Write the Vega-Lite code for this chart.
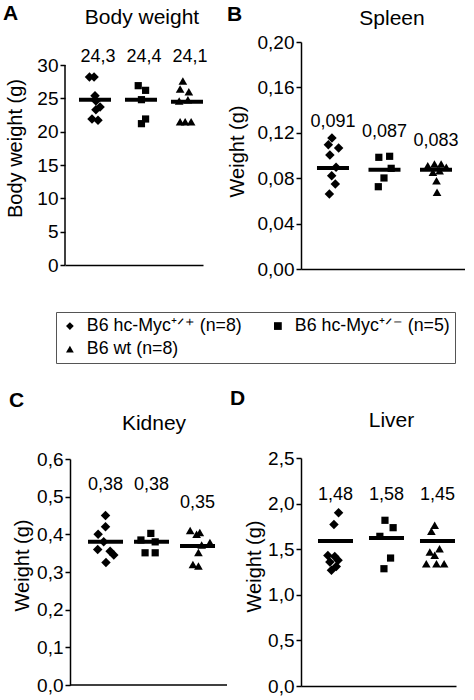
{
  "$schema": "https://vega.github.io/schema/vega-lite/v6.json",
  "padding": {"left": 3, "top": 3, "right": 0, "bottom": 0},
  "config": {
    "font": "Liberation Sans",
    "view": {"stroke": null},
    "axis": {"domainColor": "black", "domainWidth": 1.5, "tickColor": "black", "tickWidth": 1.5, "tickSize": 5, "labelFontSize": 19, "labelColor": "black", "labelPadding": 2, "labelOverlap": false, "titleFontSize": 20, "titleFontWeight": "normal", "titleColor": "black", "titleBaseline": "alphabetic", "grid": false},
    "title": {"color": "black"}
  },
  "datasets": {
    "pts": [
      {"p": "A", "g": "B6 hc-Myc⁺ᐟ⁺ (n=8)", "x": 0.88, "v": 28.2},
      {"p": "A", "g": "B6 hc-Myc⁺ᐟ⁺ (n=8)", "x": 0.98, "v": 28.2},
      {"p": "A", "g": "B6 hc-Myc⁺ᐟ⁺ (n=8)", "x": 1.0, "v": 25.4},
      {"p": "A", "g": "B6 hc-Myc⁺ᐟ⁺ (n=8)", "x": 1.02, "v": 24.6},
      {"p": "A", "g": "B6 hc-Myc⁺ᐟ⁺ (n=8)", "x": 1.11, "v": 23.7},
      {"p": "A", "g": "B6 hc-Myc⁺ᐟ⁺ (n=8)", "x": 1.02, "v": 23.3},
      {"p": "A", "g": "B6 hc-Myc⁺ᐟ⁺ (n=8)", "x": 0.935, "v": 21.9},
      {"p": "A", "g": "B6 hc-Myc⁺ᐟ⁺ (n=8)", "x": 1.065, "v": 21.7},
      {"p": "A", "g": "B6 hc-Myc⁺ᐟ⁻ (n=5)", "x": 1.94, "v": 26.9},
      {"p": "A", "g": "B6 hc-Myc⁺ᐟ⁻ (n=5)", "x": 2.10, "v": 26.2},
      {"p": "A", "g": "B6 hc-Myc⁺ᐟ⁻ (n=5)", "x": 2.01, "v": 24.8},
      {"p": "A", "g": "B6 hc-Myc⁺ᐟ⁻ (n=5)", "x": 2.10, "v": 21.9},
      {"p": "A", "g": "B6 hc-Myc⁺ᐟ⁻ (n=5)", "x": 2.01, "v": 21.2},
      {"p": "A", "g": "B6 wt (n=8)", "x": 2.91, "v": 27.6},
      {"p": "A", "g": "B6 wt (n=8)", "x": 2.85, "v": 26.4},
      {"p": "A", "g": "B6 wt (n=8)", "x": 3.04, "v": 26.0},
      {"p": "A", "g": "B6 wt (n=8)", "x": 2.83, "v": 24.6},
      {"p": "A", "g": "B6 wt (n=8)", "x": 3.02, "v": 24.8},
      {"p": "A", "g": "B6 wt (n=8)", "x": 2.85, "v": 21.5},
      {"p": "A", "g": "B6 wt (n=8)", "x": 2.96, "v": 21.5},
      {"p": "A", "g": "B6 wt (n=8)", "x": 3.09, "v": 21.5},
      {"p": "B", "g": "B6 hc-Myc⁺ᐟ⁺ (n=8)", "x": 0.98, "v": 0.1154},
      {"p": "B", "g": "B6 hc-Myc⁺ᐟ⁺ (n=8)", "x": 0.91, "v": 0.1095},
      {"p": "B", "g": "B6 hc-Myc⁺ᐟ⁺ (n=8)", "x": 1.11, "v": 0.1066},
      {"p": "B", "g": "B6 hc-Myc⁺ᐟ⁺ (n=8)", "x": 0.94, "v": 0.1004},
      {"p": "B", "g": "B6 hc-Myc⁺ᐟ⁺ (n=8)", "x": 1.06, "v": 0.0896},
      {"p": "B", "g": "B6 hc-Myc⁺ᐟ⁺ (n=8)", "x": 0.975, "v": 0.0822},
      {"p": "B", "g": "B6 hc-Myc⁺ᐟ⁺ (n=8)", "x": 1.045, "v": 0.0749},
      {"p": "B", "g": "B6 hc-Myc⁺ᐟ⁺ (n=8)", "x": 0.93, "v": 0.0661},
      {"p": "B", "g": "B6 hc-Myc⁺ᐟ⁻ (n=5)", "x": 1.89, "v": 0.0984},
      {"p": "B", "g": "B6 hc-Myc⁺ᐟ⁻ (n=5)", "x": 2.10, "v": 0.0993},
      {"p": "B", "g": "B6 hc-Myc⁺ᐟ⁻ (n=5)", "x": 2.13, "v": 0.0887},
      {"p": "B", "g": "B6 hc-Myc⁺ᐟ⁻ (n=5)", "x": 1.99, "v": 0.0802},
      {"p": "B", "g": "B6 hc-Myc⁺ᐟ⁻ (n=5)", "x": 1.88, "v": 0.0725},
      {"p": "B", "g": "B6 wt (n=8)", "x": 2.84, "v": 0.0910},
      {"p": "B", "g": "B6 wt (n=8)", "x": 2.97, "v": 0.0925},
      {"p": "B", "g": "B6 wt (n=8)", "x": 3.10, "v": 0.0925},
      {"p": "B", "g": "B6 wt (n=8)", "x": 3.20, "v": 0.0896},
      {"p": "B", "g": "B6 wt (n=8)", "x": 2.94, "v": 0.0852},
      {"p": "B", "g": "B6 wt (n=8)", "x": 3.07, "v": 0.0866},
      {"p": "B", "g": "B6 wt (n=8)", "x": 3.01, "v": 0.0778},
      {"p": "B", "g": "B6 wt (n=8)", "x": 3.02, "v": 0.0676},
      {"p": "C", "g": "B6 hc-Myc⁺ᐟ⁺ (n=8)", "x": 1.0, "v": 0.45},
      {"p": "C", "g": "B6 hc-Myc⁺ᐟ⁺ (n=8)", "x": 1.0, "v": 0.42},
      {"p": "C", "g": "B6 hc-Myc⁺ᐟ⁺ (n=8)", "x": 0.84, "v": 0.40},
      {"p": "C", "g": "B6 hc-Myc⁺ᐟ⁺ (n=8)", "x": 0.96, "v": 0.38},
      {"p": "C", "g": "B6 hc-Myc⁺ᐟ⁺ (n=8)", "x": 0.83, "v": 0.36},
      {"p": "C", "g": "B6 hc-Myc⁺ᐟ⁺ (n=8)", "x": 1.10, "v": 0.355},
      {"p": "C", "g": "B6 hc-Myc⁺ᐟ⁺ (n=8)", "x": 1.18, "v": 0.345},
      {"p": "C", "g": "B6 hc-Myc⁺ᐟ⁺ (n=8)", "x": 1.01, "v": 0.325},
      {"p": "C", "g": "B6 hc-Myc⁺ᐟ⁻ (n=5)", "x": 1.985, "v": 0.4025},
      {"p": "C", "g": "B6 hc-Myc⁺ᐟ⁻ (n=5)", "x": 1.77, "v": 0.385},
      {"p": "C", "g": "B6 hc-Myc⁺ᐟ⁻ (n=5)", "x": 2.08, "v": 0.38},
      {"p": "C", "g": "B6 hc-Myc⁺ᐟ⁻ (n=5)", "x": 1.86, "v": 0.351},
      {"p": "C", "g": "B6 hc-Myc⁺ᐟ⁻ (n=5)", "x": 2.08, "v": 0.351},
      {"p": "C", "g": "B6 wt (n=8)", "x": 2.84, "v": 0.41},
      {"p": "C", "g": "B6 wt (n=8)", "x": 3.05, "v": 0.405},
      {"p": "C", "g": "B6 wt (n=8)", "x": 2.98, "v": 0.40},
      {"p": "C", "g": "B6 wt (n=8)", "x": 3.27, "v": 0.378},
      {"p": "C", "g": "B6 wt (n=8)", "x": 3.09, "v": 0.372},
      {"p": "C", "g": "B6 wt (n=8)", "x": 3.02, "v": 0.352},
      {"p": "C", "g": "B6 wt (n=8)", "x": 2.90, "v": 0.32},
      {"p": "C", "g": "B6 wt (n=8)", "x": 3.02, "v": 0.316},
      {"p": "D", "g": "B6 hc-Myc⁺ᐟ⁺ (n=8)", "x": 1.06, "v": 1.90},
      {"p": "D", "g": "B6 hc-Myc⁺ᐟ⁺ (n=8)", "x": 0.97, "v": 1.77},
      {"p": "D", "g": "B6 hc-Myc⁺ᐟ⁺ (n=8)", "x": 0.85, "v": 1.43},
      {"p": "D", "g": "B6 hc-Myc⁺ᐟ⁺ (n=8)", "x": 0.985, "v": 1.42},
      {"p": "D", "g": "B6 hc-Myc⁺ᐟ⁺ (n=8)", "x": 1.05, "v": 1.38},
      {"p": "D", "g": "B6 hc-Myc⁺ᐟ⁺ (n=8)", "x": 0.89, "v": 1.36},
      {"p": "D", "g": "B6 hc-Myc⁺ᐟ⁺ (n=8)", "x": 1.015, "v": 1.31},
      {"p": "D", "g": "B6 hc-Myc⁺ᐟ⁺ (n=8)", "x": 0.92, "v": 1.27},
      {"p": "D", "g": "B6 hc-Myc⁺ᐟ⁻ (n=5)", "x": 1.97, "v": 1.817},
      {"p": "D", "g": "B6 hc-Myc⁺ᐟ⁻ (n=5)", "x": 2.13, "v": 1.736},
      {"p": "D", "g": "B6 hc-Myc⁺ᐟ⁻ (n=5)", "x": 1.87, "v": 1.641},
      {"p": "D", "g": "B6 hc-Myc⁺ᐟ⁻ (n=5)", "x": 2.08, "v": 1.403},
      {"p": "D", "g": "B6 hc-Myc⁺ᐟ⁻ (n=5)", "x": 1.95, "v": 1.286},
      {"p": "D", "g": "B6 wt (n=8)", "x": 2.945, "v": 1.762},
      {"p": "D", "g": "B6 wt (n=8)", "x": 2.88, "v": 1.696},
      {"p": "D", "g": "B6 wt (n=8)", "x": 2.85, "v": 1.469},
      {"p": "D", "g": "B6 wt (n=8)", "x": 3.04, "v": 1.505},
      {"p": "D", "g": "B6 wt (n=8)", "x": 2.945, "v": 1.433},
      {"p": "D", "g": "B6 wt (n=8)", "x": 2.78, "v": 1.341},
      {"p": "D", "g": "B6 wt (n=8)", "x": 2.98, "v": 1.341},
      {"p": "D", "g": "B6 wt (n=8)", "x": 3.13, "v": 1.341}
    ],
    "means": [
      {"p": "A", "x": 1, "m": 24.8, "lab": "24,3", "ly": 30.45},
      {"p": "A", "x": 2, "m": 24.8, "lab": "24,4", "ly": 30.45},
      {"p": "A", "x": 3, "m": 24.5, "lab": "24,1", "ly": 30.45},
      {"p": "B", "x": 1, "m": 0.089, "lab": "0,091", "ly": 0.1254},
      {"p": "B", "x": 2, "m": 0.0875, "lab": "0,087", "ly": 0.1166},
      {"p": "B", "x": 3, "m": 0.0875, "lab": "0,083", "ly": 0.1084},
      {"p": "C", "x": 1, "m": 0.38, "lab": "0,38", "ly": 0.5185},
      {"p": "C", "x": 2, "m": 0.38, "lab": "0,38", "ly": 0.5185},
      {"p": "C", "x": 3, "m": 0.369, "lab": "0,35", "ly": 0.4707},
      {"p": "D", "x": 1, "m": 1.59, "lab": "1,48", "ly": 2.04},
      {"p": "D", "x": 2, "m": 1.623, "lab": "1,58", "ly": 2.04},
      {"p": "D", "x": 3, "m": 1.59, "lab": "1,45", "ly": 2.04}
    ],
    "axisA": [{"lo": 0, "hi": 30}],
    "axisC": [{"lo": 0.228, "hi": 3.641}]
  },
  "spacing": -1,
  "hconcat": [
    {
      "spacing": 115,
      "vconcat": [
        {
          "title": {"text": "A", "anchor": "start", "frame": "bounds", "fontSize": 21, "fontWeight": "bold", "offset": -17, "dx": -2},
          "vconcat": [
            {
              "width": 138, "height": 223,
              "title": {"text": "Body weight", "fontSize": 21, "fontWeight": "normal", "dx": 8, "offset": 14},
              "layer": [
                {"data": {"name": "axisA"},
                 "mark": {"type": "rule", "color": "black", "strokeWidth": 1.5},
                 "encoding": {"x": {"datum": 0.348, "type": "quantitative"}, "y": {"field": "lo", "type": "quantitative"}, "y2": {"field": "hi"}}},
                {"data": {"name": "pts"}, "transform": [{"filter": "datum.p == 'A'"}],
                 "mark": {"type": "point", "filled": true, "opacity": 1, "color": "black", "strokeWidth": 0},
                 "encoding": {
                   "x": {"field": "x", "type": "quantitative", "scale": {"domain": [0.348, 3.348], "nice": false, "zero": false}, "axis": {"title": null, "labels": false, "ticks": false}},
                   "y": {"field": "v", "type": "quantitative", "scale": {"domain": [0, 33.45], "nice": false}, "axis": {"title": "Body weight (g)", "domain": false, "labelOverlap": false, "tickCount": 10, "values": [0, 5, 10, 15, 20, 25, 30], "titleX": -44, "titleY": 106}},
                   "shape": {"field": "g", "type": "nominal", "scale": {"domain": ["B6 hc-Myc⁺ᐟ⁺ (n=8)", "B6 hc-Myc⁺ᐟ⁻ (n=5)", "B6 wt (n=8)"], "range": ["diamond", "square", "triangle-up"]},
                     "legend": {"orient": "none", "legendX": -9, "legendY": 270, "columns": 2, "direction": "horizontal", "title": null, "labelFontSize": 17.8, "labelColor": "black", "labelOffset": 8, "symbolSize": 60, "symbolFillColor": "black", "symbolStrokeWidth": 0, "strokeColor": "#555", "padding": 5, "columnPadding": 27, "rowPadding": 4.2}},
                   "size": {"condition": [{"test": "datum.g == 'B6 hc-Myc⁺ᐟ⁺ (n=8)'", "value": 90}, {"test": "datum.g == 'B6 wt (n=8)'", "value": 75}], "value": 52}
                 }},
                {"data": {"name": "means"}, "transform": [{"filter": "datum.p == 'A'"}],
                 "mark": {"type": "tick", "orient": "horizontal", "size": 32, "thickness": 4, "color": "black", "opacity": 1},
                 "encoding": {"x": {"field": "x", "type": "quantitative"}, "y": {"field": "m", "type": "quantitative"}}},
                {"data": {"name": "means"}, "transform": [{"filter": "datum.p == 'A'"}],
                 "mark": {"type": "text", "fontSize": 18, "baseline": "alphabetic", "color": "black", "dx": 3},
                 "encoding": {"x": {"field": "x", "type": "quantitative"}, "y": {"field": "ly", "type": "quantitative"}, "text": {"field": "lab"}}}
              ]
            }
          ]
        },
        {
          "title": {"text": "C", "anchor": "start", "frame": "bounds", "fontSize": 21, "fontWeight": "bold", "offset": 2, "dx": -3},
          "vconcat": [
            {
              "width": 162, "height": 226,
              "title": {"text": "Kidney", "fontSize": 21, "fontWeight": "normal", "dx": 8, "offset": 16},
              "layer": [
                {"data": {"name": "axisC"},
                 "mark": {"type": "rule", "color": "black", "strokeWidth": 1.5},
                 "encoding": {"y": {"datum": 0, "type": "quantitative"}, "x": {"field": "lo", "type": "quantitative"}, "x2": {"field": "hi"}}},
                {"data": {"name": "pts"}, "transform": [{"filter": "datum.p == 'C'"}],
                 "mark": {"type": "point", "filled": true, "opacity": 1, "color": "black", "strokeWidth": 0},
                 "encoding": {
                   "x": {"field": "x", "type": "quantitative", "scale": {"domain": [0.1193, 3.641], "nice": false, "zero": false}, "axis": {"title": null, "labels": false, "ticks": false, "domain": false}},
                   "y": {"field": "v", "type": "quantitative", "scale": {"domain": [0, 0.6], "nice": false}, "axis": {"title": "Weight (g)", "offset": -5, "labelOverlap": false, "tickCount": 10, "values": [0, 0.1, 0.2, 0.3, 0.4, 0.5, 0.6], "labelExpr": "replace(format(datum.value, '.1f'), '.', ',')", "titleX": -42, "titleY": 106}},
                   "shape": {"field": "g", "type": "nominal"},
                   "size": {"condition": [{"test": "datum.g == 'B6 hc-Myc⁺ᐟ⁺ (n=8)'", "value": 90}, {"test": "datum.g == 'B6 wt (n=8)'", "value": 75}], "value": 52}
                 }},
                {"data": {"name": "means"}, "transform": [{"filter": "datum.p == 'C'"}],
                 "mark": {"type": "tick", "orient": "horizontal", "size": 35, "thickness": 4, "color": "black", "opacity": 1},
                 "encoding": {"x": {"field": "x", "type": "quantitative"}, "y": {"field": "m", "type": "quantitative"}}},
                {"data": {"name": "means"}, "transform": [{"filter": "datum.p == 'C'"}],
                 "mark": {"type": "text", "fontSize": 18, "baseline": "alphabetic", "color": "black"},
                 "encoding": {"x": {"field": "x", "type": "quantitative"}, "y": {"field": "ly", "type": "quantitative"}, "text": {"field": "lab"}}}
              ]
            }
          ]
        }
      ]
    },
    {
      "spacing": 109,
      "vconcat": [
        {
          "title": {"text": "B", "anchor": "start", "frame": "bounds", "fontSize": 21, "fontWeight": "bold", "offset": -17, "dx": 0},
          "vconcat": [
            {
              "width": 164, "height": 227,
              "title": {"text": "Spleen", "fontSize": 21, "fontWeight": "normal", "dx": 9, "offset": 4},
              "layer": [
                {"data": {"name": "pts"}, "transform": [{"filter": "datum.p == 'B'"}],
                 "mark": {"type": "point", "filled": true, "opacity": 1, "color": "black", "strokeWidth": 0},
                 "encoding": {
                   "x": {"field": "x", "type": "quantitative", "scale": {"domain": [0.379, 3.563], "nice": false, "zero": false}, "axis": {"title": null, "labels": false, "ticks": false}},
                   "y": {"field": "v", "type": "quantitative", "scale": {"domain": [0, 0.2], "nice": false}, "axis": {"title": "Weight (g)", "labelOverlap": false, "tickCount": 10, "values": [0, 0.04, 0.08, 0.12, 0.16, 0.2], "labelExpr": "replace(format(datum.value, '.2f'), '.', ',')", "titleX": -58, "titleY": 109}},
                   "shape": {"field": "g", "type": "nominal"},
                   "size": {"condition": [{"test": "datum.g == 'B6 hc-Myc⁺ᐟ⁺ (n=8)'", "value": 90}, {"test": "datum.g == 'B6 wt (n=8)'", "value": 75}], "value": 52}
                 }},
                {"data": {"name": "means"}, "transform": [{"filter": "datum.p == 'B'"}],
                 "mark": {"type": "tick", "orient": "horizontal", "size": 32, "thickness": 4, "color": "black", "opacity": 1},
                 "encoding": {"x": {"field": "x", "type": "quantitative"}, "y": {"field": "m", "type": "quantitative"}}},
                {"data": {"name": "means"}, "transform": [{"filter": "datum.p == 'B'"}],
                 "mark": {"type": "text", "fontSize": 18, "baseline": "alphabetic", "color": "black"},
                 "encoding": {"x": {"field": "x", "type": "quantitative"}, "y": {"field": "ly", "type": "quantitative"}, "text": {"field": "lab"}}}
              ]
            }
          ]
        },
        {
          "title": {"text": "D", "anchor": "start", "frame": "bounds", "fontSize": 21, "fontWeight": "bold", "offset": 1, "dx": -14},
          "vconcat": [
            {
              "width": 155, "height": 228,
              "title": {"text": "Liver", "fontSize": 21, "fontWeight": "normal", "dx": 13, "offset": 18},
              "layer": [
                {"data": {"name": "pts"}, "transform": [{"filter": "datum.p == 'D'"}],
                 "mark": {"type": "point", "filled": true, "opacity": 1, "color": "black", "strokeWidth": 0},
                 "encoding": {
                   "x": {"field": "x", "type": "quantitative", "scale": {"domain": [0.3235, 3.363], "nice": false, "zero": false}, "axis": {"title": null, "labels": false, "ticks": false}},
                   "y": {"field": "v", "type": "quantitative", "scale": {"domain": [0, 2.5], "nice": false}, "axis": {"title": "Weight (g)", "labelOverlap": false, "tickCount": 10, "values": [0, 0.5, 1, 1.5, 2, 2.5], "labelExpr": "replace(format(datum.value, '.1f'), '.', ',')", "titleX": -41, "titleY": 108}},
                   "shape": {"field": "g", "type": "nominal"},
                   "size": {"condition": [{"test": "datum.g == 'B6 hc-Myc⁺ᐟ⁺ (n=8)'", "value": 90}, {"test": "datum.g == 'B6 wt (n=8)'", "value": 75}], "value": 52}
                 }},
                {"data": {"name": "means"}, "transform": [{"filter": "datum.p == 'D'"}],
                 "mark": {"type": "tick", "orient": "horizontal", "size": 35, "thickness": 4, "color": "black", "opacity": 1},
                 "encoding": {"x": {"field": "x", "type": "quantitative"}, "y": {"field": "m", "type": "quantitative"}}},
                {"data": {"name": "means"}, "transform": [{"filter": "datum.p == 'D'"}],
                 "mark": {"type": "text", "fontSize": 18, "baseline": "alphabetic", "color": "black"},
                 "encoding": {"x": {"field": "x", "type": "quantitative"}, "y": {"field": "ly", "type": "quantitative"}, "text": {"field": "lab"}}}
              ]
            }
          ]
        }
      ]
    }
  ]
}
